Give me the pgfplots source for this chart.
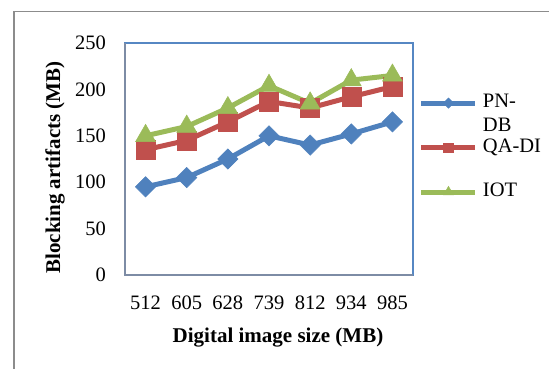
\documentclass[border=0pt]{standalone}
\usepackage{fontspec}
\setmainfont{Liberation Serif}
\usepackage{pgfplots}
\pgfplotsset{compat=1.18}

\definecolor{xlblue}{RGB}{79,129,189}
\definecolor{xlred}{RGB}{192,80,77}
\definecolor{xlgreen}{RGB}{155,187,89}
\definecolor{boxblue}{RGB}{86,135,195}
\definecolor{axisgray}{RGB}{125,140,165}
\definecolor{framegray}{RGB}{140,140,140}

\pgfplotstableread{
x  pndb  qadi  iot
0  95    135   150
1  105   145   160
2  125   165   180
3  150   187   204
4  140   180   185
5  152   192   210
6  165   203   215
}\blockdata

\begin{document}
\begin{tikzpicture}[x=1pt,y=1pt]
\useasboundingbox (0,0) rectangle (549,369);
% outer chart frame (only its left and top edges fall on the page)
\draw[framegray, line width=1.2pt] (14,0) -- (14,357.5) -- (549,357.5);

\begin{axis}[
  at={(125pt,94pt)}, anchor=south west,
  scale only axis, width=288pt, height=232pt,
  xmin=-0.5, xmax=6.5, ymin=0, ymax=250,
  xtick={0,...,6},
  xticklabels={512,605,628,739,812,934,985},
  ytick={0,50,...,250},
  major tick length=0pt,
  axis line style={draw=boxblue, line width=1.5pt},
  clip=false,
  /pgf/number format/assume math mode=true,
  tick label style={font=\fontsize{20.5}{24}\selectfont, inner sep=0pt},
  yticklabel style={anchor=east, xshift=-19pt},
  xticklabel style={anchor=north, yshift=-20.5pt},
  legend style={
    draw=none, fill=none,
    at={(axis description cs:1.0208,0.782)}, anchor=north west,
    inner sep=0pt, outer sep=0pt,
    row sep=25.5pt, column sep=5pt,
    font=\fontsize{20.5}{24}\selectfont,
    nodes={inner sep=0pt, text height=14pt, text depth=5pt},
  },
  legend cell align=left,
  legend image code/.code={
    \draw[#1, mark repeat=2, mark phase=2,
          /tikz/every mark/.append style={scale=0.5}]
      plot coordinates {(0pt,0pt) (27pt,0pt) (54pt,0pt)};
  },
]
\addplot[xlblue, line width=5pt, mark=square*, mark size=7.2pt,
         mark options={rotate=45, line width=0.5pt}]
  table[x=x, y=pndb] {\blockdata};
\addlegendentry{\begin{tabular}[t]{@{}l@{}}PN-\\DB\end{tabular}}

\addplot[xlred, line width=5pt, mark=square*, mark size=9.5pt,
         mark options={line width=0.5pt}]
  table[x=x, y=qadi] {\blockdata};
\addlegendentry{QA-DI}

\addplot[xlgreen, line width=5pt, mark=triangle*, mark size=11.5pt,
         mark options={line width=0.5pt}]
  table[x=x, y=iot] {\blockdata};
\addlegendentry{IOT}

% left and bottom axis lines are a little greyer than the plot-area border
\draw[axisgray, line width=1.5pt]
  (rel axis cs:0,1) -- (rel axis cs:0,0) -- (rel axis cs:1,0);
\end{axis}

\node[font=\fontsize{21}{25}\selectfont\bfseries] at (278,31)
  {Digital image size (MB)};
\node[font=\fontsize{21}{25}\selectfont\bfseries, rotate=90] at (55,201.5)
  {Blocking artifacts (MB)};
\end{tikzpicture}
\end{document}
